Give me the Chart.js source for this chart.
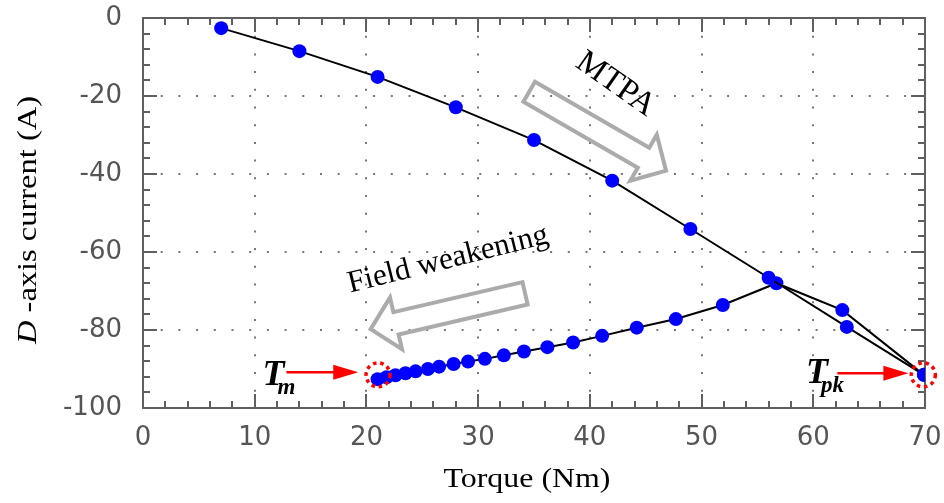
<!DOCTYPE html>
<html>
<head>
<meta charset="utf-8">
<script src="https://cdn.jsdelivr.net/npm/chart.js@4.4.1/dist/chart.umd.min.js"></script>
<style>
  html, body { margin: 0; padding: 0; background: #ffffff; }
  canvas { display: block; }
</style>
</head>
<body>
<canvas id="c" width="944" height="503"></canvas>
<script>
// ---- data ----
const mtpaTorque  = [7, 14, 21, 28, 35, 42, 49, 56, 63, 69.9];
const mtpaCurrent = [-2.6, -8.5, -15.1, -22.9, -31.3, -41.7, -54.1, -66.6, -79.2, -91.5];

const fwTorque  = [69.9, 62.6, 56.7, 51.9, 47.7, 44.2, 41.1, 38.5, 36.2, 34.1, 32.3, 30.6, 29.1, 27.8, 26.5, 25.5, 24.4, 23.5, 22.6, 21.8, 21.0];
const fwCurrent = [-91.5, -74.9, -68.0, -73.6, -77.2, -79.4, -81.5, -83.2, -84.4, -85.5, -86.5, -87.4, -88.1, -88.7, -89.4, -90.0, -90.6, -91.1, -91.6, -92.1, -92.6];

const xTickValues = [0, 10, 20, 30, 40, 50, 60, 70];
const yTickValues = [0, -20, -40, -60, -80, -100];

const xTitle = 'Torque (Nm)';
const yTitleItalic = 'D';
const yTitleRest = ' -axis current (A)';

const mtpaLabel = 'MTPA';
const fwLabel = 'Field weakening';

// annotation anchors (in data units)
const mtpaArrow = { from: [34.57, -18.9], to: [46.82, -39.15] };
const fwArrow   = { from: [34.2, -70.6],  to: [20.38, -79.8] };
const mtpaText  = { at: [42.3, -17.0], angle: 35 };
const fwText    = { at: [27.3, -62.0], angle: -14 };
const tmMark    = { label: 'T', sub: 'm',  at: [10.7, -94.1], arrow: [[12.84, -90.85], [19.27, -90.85]], ring: [21.04, -91.5] };
const tpkMark   = { label: 'T', sub: 'pk', at: [59.35, -93.7], arrow: [[62.15, -91.1], [68.51, -91.1]], ring: [69.85, -91.5] };

function toPoints(xs, ys) { return xs.map((x, i) => ({ x: x, y: ys[i] })); }

const frameColor = '#5f5f5f';

const decorPlugin = {
  id: 'decor',
  beforeDatasetsDraw(chart) {
    const ctx = chart.ctx;
    const a = chart.chartArea;
    const xs = chart.scales.x, ys = chart.scales.y;
    ctx.save();
    ctx.strokeStyle = frameColor;
    ctx.lineWidth = 2;
    ctx.setLineDash([]);
    ctx.beginPath();
    for (let v = 0; v <= 70; v += 2) {
      const p = Math.round(xs.getPixelForValue(v));
      const len = (v % 10 === 0) ? 14 : 7;
      ctx.moveTo(p, a.bottom); ctx.lineTo(p, a.bottom - len);
      ctx.moveTo(p, a.top); ctx.lineTo(p, a.top + len);
    }
    for (let v = 0; v >= -100; v -= 4) {
      const p = Math.round(ys.getPixelForValue(v));
      const len = (v % 20 === 0) ? 14 : 7;
      ctx.moveTo(a.left, p); ctx.lineTo(a.left + len, p);
      ctx.moveTo(a.right, p); ctx.lineTo(a.right - len, p);
    }
    ctx.stroke();
    ctx.strokeRect(a.left, a.top, a.right - a.left, a.bottom - a.top);
    ctx.restore();
  },
  afterDatasetsDraw(chart) {
    const ctx = chart.ctx;
    const xs = chart.scales.x, ys = chart.scales.y;
    const P = (d) => [xs.getPixelForValue(d[0]), ys.getPixelForValue(d[1])];
    const serif = '"Liberation Serif", "Times New Roman", serif';

    function hollowArrow(def) {
      const t = P(def.from), h = P(def.to);
      const dx = h[0] - t[0], dy = h[1] - t[1];
      const L = Math.hypot(dx, dy);
      const ux = dx / L, uy = dy / L, nx = -uy, ny = ux;
      const w = 11.5, hw = 26.5, hl = 26;
      const bx = t[0] + ux * (L - hl), by = t[1] + uy * (L - hl);
      ctx.save();
      ctx.strokeStyle = '#ababab';
      ctx.lineWidth = 4;
      ctx.lineJoin = 'miter';
      ctx.beginPath();
      ctx.moveTo(t[0] + nx * w, t[1] + ny * w);
      ctx.lineTo(bx + nx * w, by + ny * w);
      ctx.lineTo(bx + nx * hw, by + ny * hw);
      ctx.lineTo(h[0], h[1]);
      ctx.lineTo(bx - nx * hw, by - ny * hw);
      ctx.lineTo(bx - nx * w, by - ny * w);
      ctx.lineTo(t[0] - nx * w, t[1] - ny * w);
      ctx.closePath();
      ctx.stroke();
      ctx.restore();
    }
    hollowArrow(mtpaArrow);
    hollowArrow(fwArrow);

    function rotText(txt, def, size) {
      const p = P(def.at);
      ctx.save();
      ctx.translate(p[0], p[1]);
      ctx.rotate(def.angle * Math.PI / 180);
      ctx.font = size + 'px ' + serif;
      ctx.fillStyle = '#000';
      ctx.textAlign = 'center';
      ctx.textBaseline = 'middle';
      ctx.fillText(txt, 0, 0);
      ctx.restore();
    }
    rotText(mtpaLabel, mtpaText, 33);
    rotText(fwLabel, fwText, 31);

    function redMark(def) {
      const p = P(def.at);
      ctx.save();
      ctx.fillStyle = '#000';
      ctx.textBaseline = 'alphabetic';
      ctx.textAlign = 'left';
      ctx.font = 'italic bold 36px ' + serif;
      ctx.fillText(def.label, p[0], p[1]);
      const tw = ctx.measureText(def.label).width;
      ctx.font = 'italic bold 23px ' + serif;
      ctx.fillText(def.sub, p[0] + tw - 7, p[1] + 9);
      const s = P(def.arrow[0]), e = P(def.arrow[1]);
      ctx.strokeStyle = '#ff0000';
      ctx.fillStyle = '#ff0000';
      ctx.lineWidth = 2.5;
      ctx.beginPath();
      ctx.moveTo(s[0], s[1]);
      ctx.lineTo(e[0] - 20, e[1]);
      ctx.stroke();
      ctx.beginPath();
      ctx.moveTo(e[0], e[1]);
      ctx.lineTo(e[0] - 25, e[1] - 7.5);
      ctx.lineTo(e[0] - 25, e[1] + 7.5);
      ctx.closePath();
      ctx.fill();
      const r = P(def.ring);
      ctx.lineWidth = 3.5;
      ctx.setLineDash([3.5, 3.8]);
      ctx.beginPath();
      ctx.arc(r[0], r[1], 12, 0, Math.PI * 2);
      ctx.stroke();
      ctx.restore();
    }
    redMark(tmMark);
    redMark(tpkMark);

    function stretched(parts, cx, cy, targetW, rotate) {
      ctx.save();
      let total = 0;
      parts.forEach(pt => { ctx.font = pt.font; pt.w = ctx.measureText(pt.text).width; total += pt.w; });
      ctx.translate(cx, cy);
      if (rotate) ctx.rotate(-Math.PI / 2);
      ctx.scale(targetW / total, 1);
      ctx.fillStyle = '#000';
      ctx.textBaseline = 'alphabetic';
      ctx.textAlign = 'left';
      let x = -total / 2;
      parts.forEach(pt => { ctx.font = pt.font; ctx.fillText(pt.text, x, 0); x += pt.w; });
      ctx.restore();
    }
    stretched([{ text: xTitle, font: '28px ' + serif }], 527, 487, 167, false);
    stretched([{ text: yTitleItalic, font: 'italic 28px ' + serif }, { text: yTitleRest, font: '28px ' + serif }], 36, 220, 248, true);
  }
};

new Chart(document.getElementById('c'), {
  type: 'scatter',
  data: {
    datasets: [
      {
        label: 'MTPA',
        data: toPoints(mtpaTorque, mtpaCurrent),
        showLine: true,
        borderColor: '#000000',
        borderWidth: 2,
        backgroundColor: '#0000ff',
        pointBackgroundColor: '#0000ff',
        pointBorderWidth: 0,
        pointRadius: 7,
        tension: 0
      },
      {
        label: 'Field weakening',
        data: toPoints(fwTorque, fwCurrent),
        showLine: true,
        borderColor: '#000000',
        borderWidth: 2,
        backgroundColor: '#0000ff',
        pointBackgroundColor: '#0000ff',
        pointBorderWidth: 0,
        pointRadius: 7,
        tension: 0
      }
    ]
  },
  options: {
    responsive: false,
    animation: false,
    events: [],
    layout: { padding: { left: 0, right: 19, top: 18, bottom: 0 } },
    plugins: { legend: { display: false }, tooltip: { enabled: false } },
    scales: {
      x: {
        type: 'linear', min: 0, max: 70,
        afterBuildTicks: (s) => { s.ticks = xTickValues.map(v => ({ value: v })); },
        afterFit: (s) => { s.height = 95; s.paddingLeft = 0; s.paddingRight = 0; },
        grid: { color: '#777777', lineWidth: 2, drawTicks: false, tickLength: 0 },
        border: { display: false, dash: [2, 15.7] },
        ticks: { font: { family: '"DejaVu Sans", "Liberation Sans", Arial, sans-serif', size: 26 }, color: '#555555', padding: 15, maxRotation: 0, autoSkip: false }
      },
      y: {
        type: 'linear', min: -100, max: 0,
        afterBuildTicks: (s) => { s.ticks = yTickValues.map(v => ({ value: v })); },
        afterFit: (s) => { s.width = 143; s.paddingTop = 0; s.paddingBottom = 0; },
        grid: { color: '#777777', lineWidth: 2, drawTicks: false, tickLength: 0 },
        border: { display: false, dash: [2, 15.7] },
        ticks: { font: { family: '"DejaVu Sans", "Liberation Sans", Arial, sans-serif', size: 26 }, color: '#555555', padding: 21, autoSkip: false }
      }
    }
  },
  plugins: [decorPlugin]
});
</script>
</body>
</html>
